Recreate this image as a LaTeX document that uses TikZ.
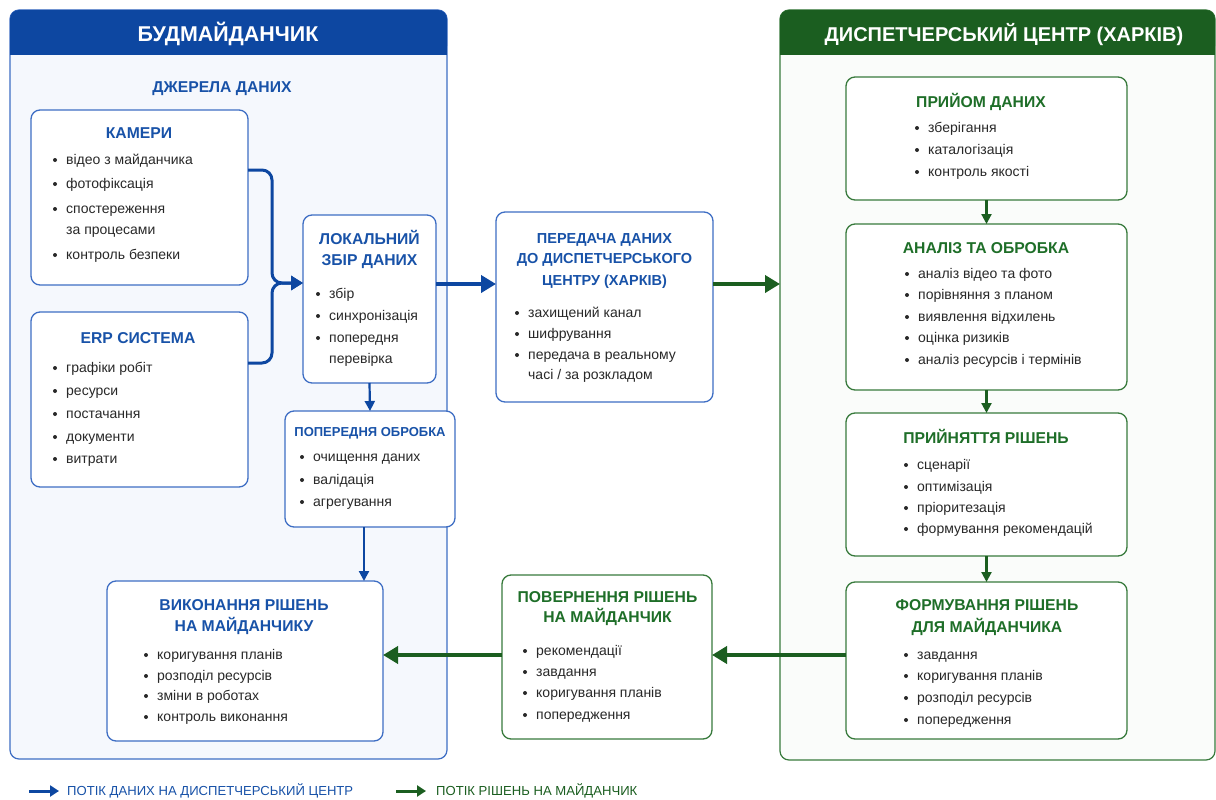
\documentclass[tikz,border=0pt]{standalone}
\usepackage{fontspec}
\setmainfont{Liberation Sans}
\usepackage{tikz}
\usetikzlibrary{arrows.meta, positioning}
\definecolor{cBlue}{RGB}{13,71,161}
\definecolor{cBlueTx}{RGB}{24,82,168}
\definecolor{cBlueLn}{RGB}{62,110,196}
\definecolor{cBlueBg}{RGB}{245,248,253}
\definecolor{cGreen}{RGB}{27,94,32}
\definecolor{cGreenTx}{RGB}{30,110,40}
\definecolor{cGreenLn}{RGB}{56,122,60}
\definecolor{cGreenBg}{RGB}{250,252,250}
\definecolor{cTxt}{RGB}{40,40,40}
% bullet item and its continuation line
\newcommand{\itm}[4]{\fill[cTxt] (#2-11,#3) circle (2); \node[item] (#1) at (#2,#3+4.8) {#4};}
\newcommand{\itmc}[4]{\node[item] (#1) at (#2,#3+4.8) {#4};}

\begin{document}
\begin{tikzpicture}[x=1pt, y=-1pt,
  panel/.style={rounded corners=9pt, line width=1.2pt, inner sep=0pt, outer sep=0pt},
  boxb/.style={draw=cBlueLn, fill=white, line width=1.3pt, rounded corners=9pt, inner sep=0pt, outer sep=0pt},
  boxg/.style={boxb, draw=cGreenLn},
  hdr/.style={anchor=base, inner sep=0pt, text=white, font=\fontsize{20}{24}\selectfont\bfseries},
  ttlb/.style={anchor=base, inner sep=0pt, text=cBlueTx, font=\fontsize{15.7}{18}\selectfont\bfseries},
  ttlg/.style={ttlb, text=cGreenTx},
  item/.style={anchor=base west, inner sep=0pt, text=cTxt, font=\fontsize{14}{16}\selectfont},
  legtx/.style={anchor=base west, inner sep=0pt, font=\fontsize{13.1}{15}\selectfont},
  flowb/.style={draw=cBlue, line width=3pt, rounded corners=10pt, -{Triangle[length=12pt, width=14pt]}},
  bigb/.style={draw=cBlue, line width=4pt, -{Triangle[length=15pt, width=17pt]}},
  bigg/.style={bigb, draw=cGreen},
  downb/.style={draw=cBlue, line width=2.2pt, -{Triangle[length=10pt, width=10pt]}},
  downg/.style={downb, draw=cGreen},
  legb/.style={draw=cBlue, line width=3pt, -{Triangle[length=9pt, width=11pt]}},
  legg/.style={legb, draw=cGreen}]
\useasboundingbox (0,0) rectangle (1216,800);
\fill[white] (0,0) rectangle (1216,800);

% --- panels
\node[panel, draw=cBlueLn, fill=cBlueBg, minimum width=437, minimum height=749] (site) at (228.5,384.5) {};
\fill[cBlue, rounded corners=9pt] (10,55) -- (10,10) -- (447,10) -- (447,55) -- cycle; \fill[cBlue] (10,35) rectangle (447,55);
\node[hdr, font=\fontsize{21.4}{25}\selectfont\bfseries] (siteT) at (228,41.7) {БУДМАЙДАНЧИК};
\node[panel, draw=cGreenLn, fill=cGreenBg, minimum width=435, minimum height=750] (centre) at (997.5,385) {};
\fill[cGreen, rounded corners=9pt] (780,55) -- (780,10) -- (1215,10) -- (1215,55) -- cycle; \fill[cGreen] (780,35) rectangle (1215,55);
\node[hdr] (centreT) at (1004,42) {ДИСПЕТЧЕРСЬКИЙ ЦЕНТР (ХАРКІВ)};
\node[ttlb] (srcT) at (222,92.6) {ДЖЕРЕЛА ДАНИХ};

% --- site boxes
\node[boxb, minimum width=217, minimum height=175] (kam) at (139.5,197.5) {};
\node[ttlb] (kamT) at (139,138.6) {КАМЕРИ};
\itm{kam1}{66}{160}{відео з майданчика} \itm{kam2}{66}{184}{фотофіксація}
\itm{kam3}{66}{209}{спостереження} \itmc{kam3b}{66}{230}{за процесами}
\itm{kam4}{66}{255}{контроль безпеки}

\node[boxb, minimum width=217, minimum height=175] (erp) at (139.5,399.5) {};
\node[ttlb] (erpT) at (138,343.6) {ERP СИСТЕМА};
\itm{erp1}{66}{368}{графіки робіт} \itm{erp2}{66}{391}{ресурси}
\itm{erp3}{66}{414}{постачання} \itm{erp4}{66}{437}{документи}
\itm{erp5}{66}{459}{витрати}

\node[boxb, minimum width=133, minimum height=168] (lok) at (369.5,299) {};
\node[ttlb] (lokT) at (369.5,244.6) {ЛОКАЛЬНИЙ};
\node[ttlb] (lokT2) at (369.5,265.6) {ЗБІР ДАНИХ};
\itm{lok1}{329}{294}{збір} \itm{lok2}{329}{316}{синхронізація}
\itm{lok3}{329}{338}{попередня} \itmc{lok3b}{329}{359}{перевірка}

\node[boxb, minimum width=170, minimum height=116] (pop) at (370,469) {};
\node[ttlb, font=\fontsize{13}{16}\selectfont\bfseries] (popT) at (370,436.7) {ПОПЕРЕДНЯ ОБРОБКА};
\itm{pop1}{313}{457}{очищення даних} \itm{pop2}{313}{480}{валідація}
\itm{pop3}{313}{502}{агрегування}

\node[boxb, minimum width=276, minimum height=160] (vyk) at (245,661) {};
\node[ttlb] (vykT) at (244,610.6) {ВИКОНАННЯ РІШЕНЬ};
\node[ttlb] (vykT2) at (244,631.6) {НА МАЙДАНЧИКУ};
\itm{vyk1}{157}{655}{коригування планів} \itm{vyk2}{157}{676}{розподіл ресурсів}
\itm{vyk3}{157}{696}{зміни в роботах} \itm{vyk4}{157}{717}{контроль виконання}

% --- transfer boxes
\node[boxb, minimum width=217, minimum height=190] (ped) at (604.5,307) {};
\node[ttlb, font=\fontsize{14.5}{17}\selectfont\bfseries] (pedT) at (604.5,243.2) {ПЕРЕДАЧА ДАНИХ};
\node[ttlb, font=\fontsize{14.5}{17}\selectfont\bfseries] (pedT2) at (604.5,263.2) {ДО ДИСПЕТЧЕРСЬКОГО};
\node[ttlb, font=\fontsize{14.5}{17}\selectfont\bfseries] (pedT3) at (604.5,285.2) {ЦЕНТРУ (ХАРКІВ)};
\itm{ped1}{528}{313}{захищений канал} \itm{ped2}{528}{334}{шифрування}
\itm{ped3}{528}{355}{передача в реальному} \itmc{ped3b}{528}{375}{часі / за розкладом}

\node[boxg, minimum width=210, minimum height=164] (pov) at (607,657) {};
\node[ttlg] (povT) at (607.5,602.6) {ПОВЕРНЕННЯ РІШЕНЬ};
\node[ttlg] (povT2) at (607.5,622.6) {НА МАЙДАНЧИК};
\itm{pov1}{536}{651}{рекомендації} \itm{pov2}{536}{672}{завдання}
\itm{pov3}{536}{693}{коригування планів} \itm{pov4}{536}{715}{попередження}

% --- centre boxes
\node[boxg, minimum width=281, minimum height=123] (priy) at (986.5,138.5) {};
\node[ttlg] (priyT) at (981,107.6) {ПРИЙОМ ДАНИХ};
\itm{priy1}{928}{128}{зберігання} \itm{priy2}{928}{150}{каталогізація}
\itm{priy3}{928}{172}{контроль якості}

\node[boxg, minimum width=281, minimum height=166] (anal) at (986.5,307) {};
\node[ttlg] (analT) at (986,253.6) {АНАЛІЗ ТА ОБРОБКА};
\itm{anal1}{918}{274}{аналіз відео та фото} \itm{anal2}{918}{295}{порівняння з планом}
\itm{anal3}{918}{317}{виявлення відхилень} \itm{anal4}{918}{338}{оцінка ризиків}
\itm{anal5}{918}{360}{аналіз ресурсів і термінів}

\node[boxg, minimum width=281, minimum height=143] (prin) at (986.5,484.5) {};
\node[ttlg] (prinT) at (986,443.6) {ПРИЙНЯТТЯ РІШЕНЬ};
\itm{prin1}{917}{465}{сценарії} \itm{prin2}{917}{487}{оптимізація}
\itm{prin3}{917}{508}{пріоритезація} \itm{prin4}{917}{529}{формування рекомендацій}

\node[boxg, minimum width=281, minimum height=157] (form) at (986.5,660.5) {};
\node[ttlg] (formT) at (987,610.6) {ФОРМУВАННЯ РІШЕНЬ};
\node[ttlg] (formT2) at (987,632.6) {ДЛЯ МАЙДАНЧИКА};
\itm{form1}{917}{655}{завдання} \itm{form2}{917}{676}{коригування планів}
\itm{form3}{917}{698}{розподіл ресурсів} \itm{form4}{917}{720}{попередження}

% --- connectors
\coordinate (merge) at (272,283);
\draw[flowb] ([yshift=27.5pt]kam.east) -| (merge) -- ([yshift=16pt]lok.west);
\draw[flowb] ([yshift=36.5pt]erp.east) -| (merge) -- ([yshift=16pt]lok.west);
\draw[downb] (lok.south) -- (pop.north);
\draw[downb] ([xshift=-6pt]pop.south) -- ([xshift=-6pt]pop.south |- vyk.north);
\draw[bigb] ([yshift=15pt]lok.east) -- ([yshift=15pt]lok.east -| ped.west);
\draw[bigg] ([yshift=23pt]ped.east) -- ([yshift=23pt]ped.east -| centre.west);
\draw[downg] (priy.south) -- (anal.north);
\draw[downg] (anal.south) -- (prin.north);
\draw[downg] (prin.south) -- (form.north);
\draw[bigg] ([yshift=5.5pt]form.west) -- ([yshift=5.5pt]form.west -| pov.east);
\draw[bigg] ([yshift=2pt]pov.west) -- ([yshift=2pt]pov.west -| vyk.east);

% --- legend
\node[legtx, text=cBlueTx] (legD) at (67,795.5) {ПОТІК ДАНИХ НА ДИСПЕТЧЕРСЬКИЙ ЦЕНТР};
\node[legtx, text=cGreen] (legR) at (436,795.5) {ПОТІК РІШЕНЬ НА МАЙДАНЧИК};
\coordinate (legDa) at (29,791); \coordinate (legRa) at (396,791);
\draw[legb] (legDa) -- ([xshift=-8pt]legDa -| legD.west);
\draw[legg] (legRa) -- ([xshift=-10pt]legRa -| legR.west);
\end{tikzpicture}
\end{document}
